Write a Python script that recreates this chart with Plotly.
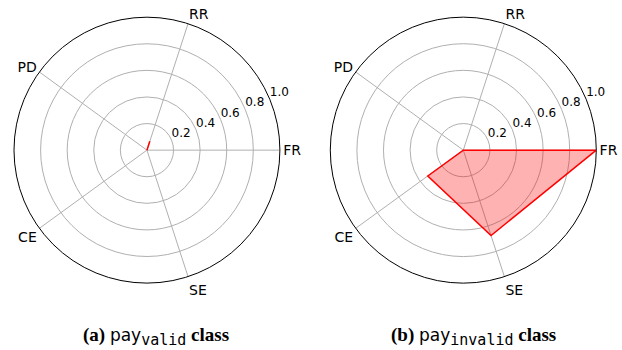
import plotly.graph_objects as go

# Radar axes (counter-clockwise from 0°)
categories = ["FR", "RR", "PD", "CE", "SE"]
radial_ticks = [0.2, 0.4, 0.6, 0.8, 1.0]
radial_tick_labels = ["0.2", "0.4", "0.6", "0.8", "1.0"]

# Share of samples per axis for each class
pay_valid = [0.0, 0.07, 0.0, 0.0, 0.0]
pay_invalid = [1.0, 0.0, 0.0, 0.33, 0.675]

MONO = "font-family:DejaVu Sans Mono"
captions = [
    f"<b>(a)</b> <span style='font-family:DejaVu Sans;font-size:17px'>pay</span>"
    f"<sub><span style='{MONO};font-size:15px'>valid</span></sub> <b>class</b>",
    f"<b>(b)</b> <span style='font-family:DejaVu Sans;font-size:17px'>pay</span>"
    f"<sub><span style='{MONO};font-size:15px'>invalid</span></sub> <b>class</b>",
]

step = 360.0 / len(categories)
angles = [i * step for i in range(len(categories))]
LABEL_ANGLE = 22.5   # ray along which the radial tick labels are written


def closed(values):
    return list(values) + [values[0]]


fig = go.Figure()
for name, vals, sub in [("valid", pay_valid, "polar"), ("invalid", pay_invalid, "polar2")]:
    fig.add_trace(go.Scatterpolar(
        r=closed(vals),
        theta=closed(angles),
        thetaunit="degrees",
        mode="lines",
        fill="toself",
        fillcolor="rgba(255,0,0,0.3)",
        line=dict(color="#ff0000", width=1.5),
        subplot=sub,
        name=name,
        showlegend=False,
        hoverinfo="skip",
    ))
    # radial tick labels, just outside each ring
    fig.add_trace(go.Scatterpolar(
        r=radial_ticks,
        theta=[LABEL_ANGLE] * len(radial_ticks),
        thetaunit="degrees",
        mode="text",
        text=radial_tick_labels,
        textposition="top right",
        textfont=dict(family="DejaVu Sans", size=12, color="black"),
        cliponaxis=False,
        subplot=sub,
        showlegend=False,
        hoverinfo="skip",
    ))

polar_style = dict(
    bgcolor="white",
    radialaxis=dict(
        range=[0, 1],
        tickvals=radial_ticks,
        showticklabels=False,
        angle=22.5,
        showline=False,
        ticks="",
        gridcolor="#b0b0b0",
        gridwidth=0.8,
    ),
    angularaxis=dict(
        thetaunit="degrees",
        tickmode="array",
        tickvals=angles,
        ticktext=categories,
        rotation=0,
        direction="counterclockwise",
        showline=True,
        linecolor="black",
        linewidth=1,
        ticks="",
        gridcolor="#b0b0b0",
        gridwidth=0.8,
        tickfont=dict(family="DejaVu Sans", size=14, color="black"),
    ),
)

fig.update_layout(
    width=622,
    height=350,
    margin=dict(l=0, r=0, t=0, b=0),
    paper_bgcolor="white",
    polar=dict(domain=dict(x=[0.0225, 0.450], y=[0.191, 0.951]), **polar_style),
    polar2=dict(domain=dict(x=[0.531, 0.9587], y=[0.191, 0.951]), **polar_style),
)

for text, xc in zip(captions, [0.251, 0.761]):
    fig.add_annotation(
        text=text,
        x=xc,
        y=0.04,
        xref="paper",
        yref="paper",
        showarrow=False,
        xanchor="center",
        yanchor="middle",
        font=dict(family="Liberation Serif", size=19, color="black"),
    )

fig.write_html("out.html")
